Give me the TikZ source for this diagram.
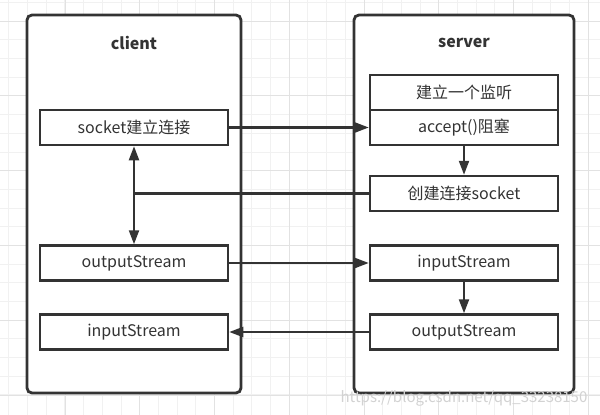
\documentclass[tikz,border=0pt]{standalone}
\usepackage{fontspec}
\setmainfont{Noto Sans CJK SC}
\usetikzlibrary{arrows.meta}
\definecolor{sockcolor0000}{RGB}{255,255,255}
\definecolor{sockcolor0001}{RGB}{51,51,51}
\definecolor{sockcolor0002}{RGB}{241,241,241}
\definecolor{sockcolor0003}{RGB}{226,226,226}
\definecolor{sockcolor0004}{RGB}{210,210,210}
\begin{document}
\begin{tikzpicture}[yscale=-1,x=1pt,y=1pt
,pstyle1/.style={color=sockcolor0002,line width=1.0pt}
,pstyle2/.style={color=sockcolor0003,line width=1.0pt}
,pstyle3/.style={draw=sockcolor0001,line width=2.8pt,rounded corners=5pt}
,pstyle4/.style={draw=sockcolor0001,fill=sockcolor0000,line width=2.5pt,minimum width=188pt,minimum height=35pt,inner sep=0pt,text=sockcolor0001,font=\fontsize{16}{18}\selectfont}
,pstyle5/.style={color=sockcolor0001,line width=2.2pt,-{Triangle[length=14pt,width=10pt]}}
,pstyle6/.style={color=sockcolor0001,line width=2.2pt}
]
\useasboundingbox (0pt,0pt) rectangle (600pt,415pt);
\fill[sockcolor0000] (0pt,0pt) rectangle (600pt,415pt);
\foreach \i in {0,...,31} \draw[pstyle1] ({8.9+\i*18.69},0pt) -- ++(0pt,415pt);
\foreach \i in {-1,...,21} \draw[pstyle1] (0pt,{2.5+\i*18.69}) -- ++(600pt,0pt);
\foreach \i in {0,...,7} \draw[pstyle2] ({65+\i*74.76},0pt) -- ++(0pt,415pt);
\foreach \i in {0,...,5} \draw[pstyle2] (0pt,{21.2+\i*74.76}) -- ++(600pt,0pt);
\draw[pstyle3,fill=sockcolor0000] (27pt,15pt) rectangle (241pt,393pt);
\draw[pstyle3,fill=sockcolor0000] (354pt,15pt) rectangle (574pt,393pt);
\node (clienttitle) at (134pt,43pt)[text=sockcolor0001,font=\fontsize{16}{18}\selectfont\bfseries]{client};
\node (servertitle) at (464pt,43pt)[text=sockcolor0001,font=\fontsize{16}{18}\selectfont\bfseries]{server};
\node (socket) at (134pt,127.5pt)[pstyle4]{socket建立连接};
\node (cout) at (134pt,263pt)[pstyle4]{outputStream};
\node (cin) at (134pt,332pt)[pstyle4]{inputStream};
\node (listen) at (464pt,92.5pt)[pstyle4]{建立一个监听};
\node (accept) at (464pt,127.5pt)[pstyle4]{accept()阻塞};
\node (create) at (464pt,193.5pt)[pstyle4]{创建连接socket};
\node (sin) at (464pt,263pt)[pstyle4]{inputStream};
\node (sout) at (464pt,332pt)[pstyle4]{outputStream};
\draw[pstyle5] (socket) -- (accept);
\draw[pstyle5] (accept) -- (create);
\draw[pstyle6] (create.west) -- (create.west -| socket) coordinate (joint);
\draw[pstyle5] (joint) -- (socket);
\draw[pstyle5] (joint) -- (cout);
\draw[pstyle5] (cout) -- (sin);
\draw[pstyle5] (sin) -- (sout);
\draw[pstyle5] (sout) -- (cin);
\node (mark) at (464pt,398pt)[text=sockcolor0004,font=\fontsize{15}{16}\selectfont]{https://blog.csdn.net/qq\_33238150};
\end{tikzpicture}
\end{document}
